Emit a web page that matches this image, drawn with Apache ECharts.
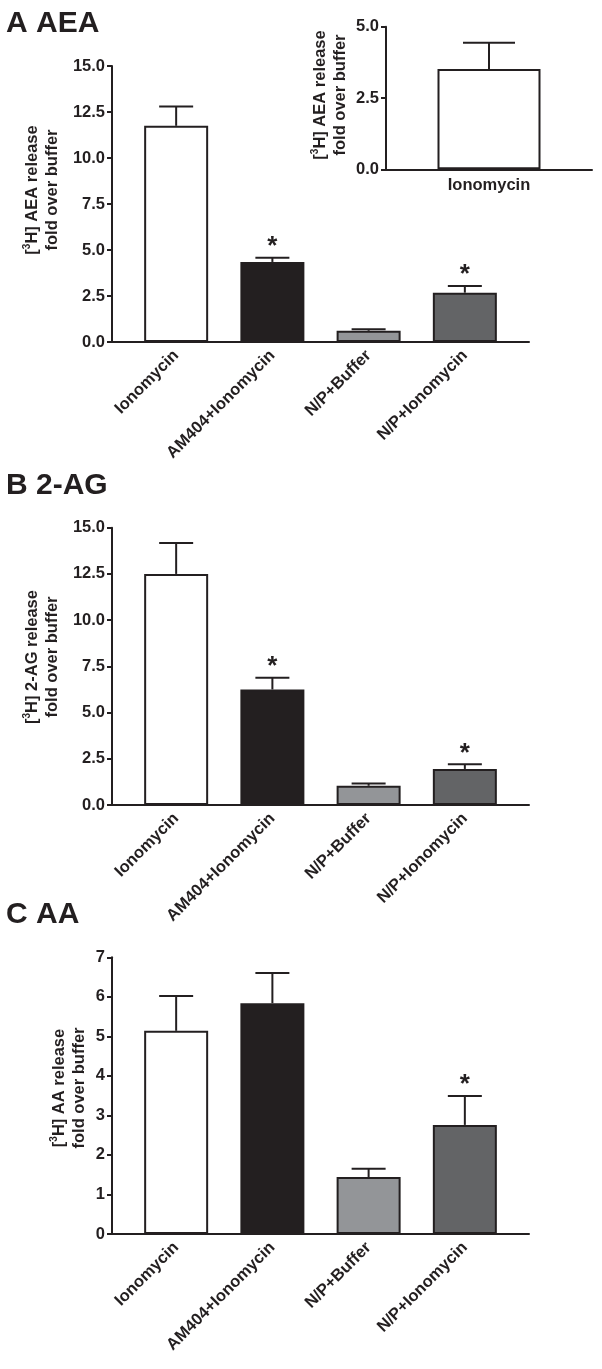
<!DOCTYPE html>
<html>
<head>
<meta charset="utf-8">
<script src="https://cdn.jsdelivr.net/npm/echarts@6/dist/echarts.min.js"></script>
<style>
html,body{margin:0;padding:0;background:#fff;}
#c{width:602px;height:1369px;}
</style>
</head>
<body>
<div id="c"></div>
<script>
// ---- data ----
const categories = ['Ionomycin', 'AM404+Ionomycin', 'N/P+Buffer', 'N/P+Ionomycin'];
const aeaMean = [11.75, 4.35, 0.61, 2.68];
const aeaSem  = [1.05, 0.23, 0.08, 0.36];
const aeaSig  = [0, 1, 0, 1];
const insetCategories = ['Ionomycin'];
const insetMean = [3.52];
const insetSem  = [0.92];
const agMean = [12.5, 6.25, 1.04, 1.95];
const agSem  = [1.67, 0.64, 0.12, 0.25];
const agSig  = [0, 1, 0, 1];
const aaMean = [5.14, 5.84, 1.44, 2.76];
const aaSem  = [0.88, 0.76, 0.21, 0.73];
const aaSig  = [0, 0, 0, 1];

const ink = '#231f20';
const barColors = ['#ffffff', '#231f20', '#939598', '#636466'];
const FF = '"Liberation Sans", Arial, sans-serif';

const chart = echarts.init(document.getElementById('c'), null, {renderer: 'canvas'});

const mainLeft = 112, mainWidth = 417;
const grids = [
  {left: mainLeft, top: 66, width: mainWidth, height: 276},      // A
  {left: 386, top: 26.7, width: 206, height: 142.6},              // inset
  {left: mainLeft, top: 527.7, width: mainWidth, height: 277.3},  // B
  {left: mainLeft, top: 957.3, width: mainWidth, height: 276.7}   // C
];

function xMain(gi) {
  return {
    type: 'value', gridIndex: gi, min: -2/3, max: 11/3,
    axisLine: {show: true, onZero: false, lineStyle: {color: ink, width: 2}},
    axisTick: {show: false}, splitLine: {show: false},
    axisLabel: {
      customValues: [0, 1, 2, 3], rotate: 45, margin: 11,
      formatter: v => categories[Math.round(v)] || '',
      color: ink, fontFamily: FF, fontWeight: 'bold', fontSize: 16.5
    }
  };
}
function yAxis(gi, max, interval, dec) {
  return {
    type: 'value', gridIndex: gi, min: 0, max: max, interval: interval,
    axisLine: {show: true, onZero: false, lineStyle: {color: ink, width: 2}},
    axisTick: {show: true, length: 5, lineStyle: {color: ink, width: 2}},
    splitLine: {show: false},
    axisLabel: {
      margin: 7, color: ink, fontFamily: FF, fontWeight: 'bold', fontSize: 16.5,
      formatter: v => v.toFixed(dec)
    }
  };
}

function barSeries(ai, means, colors, width) {
  return {
    type: 'bar', xAxisIndex: ai, yAxisIndex: ai, barWidth: width,
    data: means.map((v, i) => ({value: [i, v], itemStyle: {color: colors[i]}})),
    itemStyle: {borderColor: ink, borderWidth: 2},
    silent: true, animation: false
  };
}
function errSeries(ai, means, sems, sigs, capHalf) {
  return {
    type: 'custom', xAxisIndex: ai, yAxisIndex: ai, animation: false, silent: true, z: 5,
    data: means.map((v, i) => [i, v, sems[i], sigs ? sigs[i] : 0]),
    renderItem: function (params, api) {
      const x = api.value(0), m = api.value(1), s = api.value(2), sig = api.value(3);
      const p0 = api.coord([x, m]);
      const p1 = api.coord([x, m + s]);
      const children = [
        {type: 'line', shape: {x1: p0[0], y1: p0[1], x2: p1[0], y2: p1[1]}, style: {stroke: ink, lineWidth: 2}},
        {type: 'line', shape: {x1: p1[0] - capHalf, y1: p1[1], x2: p1[0] + capHalf, y2: p1[1]}, style: {stroke: ink, lineWidth: 2}}
      ];
      if (sig) {
        children.push({type: 'text', x: p1[0], y: p1[1] + 2,
          style: {text: '*', fill: ink, font: 'bold 26px ' + FF, align: 'center', verticalAlign: 'bottom'}});
      }
      return {type: 'group', children: children};
    }
  };
}

function yName(x, y, name) {
  return {
    type: 'text', x: x, y: y, rotation: Math.PI / 2,
    style: {
      text: '{a|[}{sup|3}{a|H] ' + name + ' release}\n{a|fold over buffer}',
      align: 'center', verticalAlign: 'middle',
      rich: {
        a: {fontFamily: FF, fontWeight: 'bold', fontSize: 16.5, fill: ink, lineHeight: 20},
        sup: {fontFamily: FF, fontWeight: 'bold', fontSize: 10, fill: ink, lineHeight: 20, verticalAlign: 'top', padding: [0, 0, 6, 0]}
      }
    }
  };
}
function title(x, y, t) {
  return {type: 'text', x: x, y: y, style: {text: t, fill: ink, font: 'bold 30px ' + FF, align: 'left', verticalAlign: 'top'}};
}

const option = {
  backgroundColor: '#fff',
  animation: false,
  grid: grids,
  xAxis: [
    xMain(0),
    {
      type: 'value', gridIndex: 1, min: -1, max: 1,
      axisLine: {show: true, onZero: false, lineStyle: {color: ink, width: 2}},
      axisTick: {show: false}, splitLine: {show: false},
      axisLabel: {customValues: [0], margin: 8, formatter: v => insetCategories[Math.round(v)] || '',
        color: ink, fontFamily: FF, fontWeight: 'bold', fontSize: 16.5}
    },
    xMain(2),
    xMain(3)
  ],
  yAxis: [
    yAxis(0, 15, 2.5, 1),
    yAxis(1, 5, 2.5, 1),
    yAxis(2, 15, 2.5, 1),
    yAxis(3, 7, 1, 0)
  ],
  series: [
    barSeries(0, aeaMean, barColors, 64),
    errSeries(0, aeaMean, aeaSem, aeaSig, 17),
    barSeries(1, insetMean, barColors, 103),
    errSeries(1, insetMean, insetSem, null, 26),
    barSeries(2, agMean, barColors, 64),
    errSeries(2, agMean, agSem, agSig, 17),
    barSeries(3, aaMean, barColors, 64),
    errSeries(3, aaMean, aaSem, aaSig, 17)
  ],
  graphic: [
    title(6, 9, 'A AEA'),
    title(6, 471, 'B 2-AG'),
    title(6, 900, 'C AA'),
    yName(42, 190, 'AEA'),
    yName(330, 95, 'AEA'),
    yName(42, 657, '2-AG'),
    yName(69, 1088, 'AA')
  ]
};
chart.setOption(option);
</script>
</body>
</html>
